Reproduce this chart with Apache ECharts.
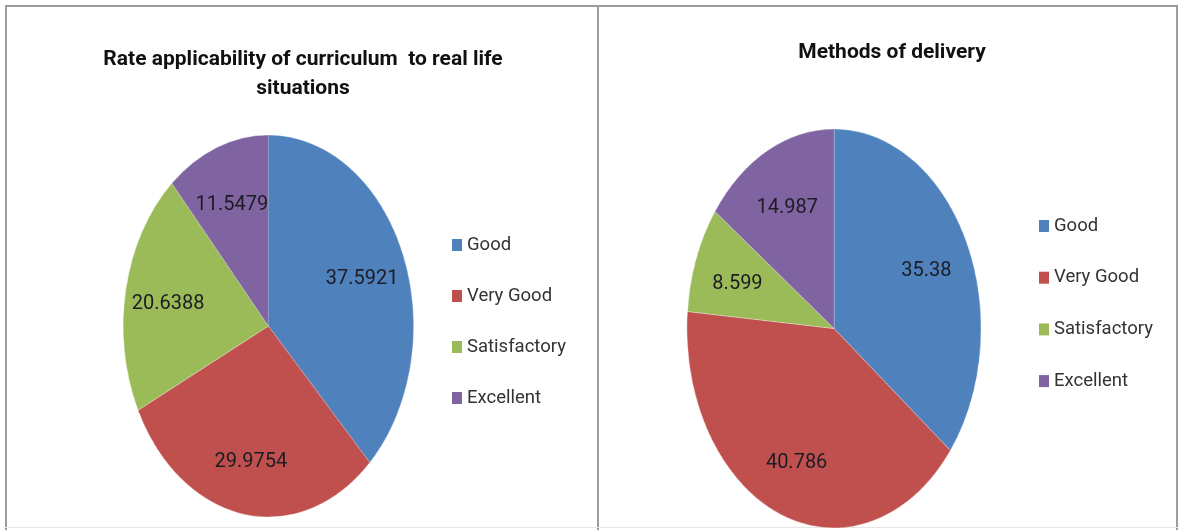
<!DOCTYPE html>
<html>
<head>
<meta charset="utf-8">
<script src="https://cdn.jsdelivr.net/npm/echarts@6/dist/echarts.min.js"></script>
<style>
  html, body { margin: 0; padding: 0; background: #fff; }
  #page { position: relative; width: 1181px; height: 530px; overflow: hidden; background: #fff; }
  .ln { position: absolute; background: #9c9c9c; }
  .pie { position: absolute; top: 0; height: 530px; transform-origin: 0 0; }
  #txt { position: absolute; left: 0; top: 0; width: 1181px; height: 530px; }
</style>
</head>
<body>
<div id="page">
  <div class="ln" style="left:5px;top:5px;width:1173px;height:2px;"></div>
  <div class="ln" style="left:5px;top:5px;width:2px;height:530px;"></div>
  <div class="ln" style="left:597px;top:5px;width:2px;height:530px;"></div>
  <div class="ln" style="left:1176px;top:5px;width:2px;height:530px;"></div>
  <div class="ln" style="left:5px;top:527px;width:1173px;height:1px;background:#e6e6e6;"></div>
  <div id="pieL" class="pie"></div>
  <div id="pieR" class="pie"></div>
  <div id="txt"></div>
</div>
<script>
// ---- data ----
const categories = ['Good', 'Very Good', 'Satisfactory', 'Excellent'];
const applicabilityValues = [37.5921, 29.9754, 20.6388, 11.5479];
const deliveryValues = [35.38, 40.786, 8.599, 14.987];
const titleLeft = 'Rate applicability of curriculum  to real life\nsituations';
const titleRight = 'Methods of delivery';
const colors = ['#4F81BD', '#C0504D', '#9BBB59', '#8064A2'];

// ---- geometry (page pixels) ----
const L = { cx: 268, cy: 326, rx: 145, ry: 191, left: 0, width: 598 };
const R = { cx: 834, cy: 328.5, rx: 147, ry: 199.5, left: 598, width: 583 };
const FONT = 'Roboto, "Noto Sans", sans-serif';

function makePie(id, geo, values) {
  const sx = geo.rx / geo.ry;
  const el = document.getElementById(id);
  const w = geo.width / sx;
  el.style.left = geo.left + 'px';
  el.style.width = w + 'px';
  el.style.transform = 'scaleX(' + sx + ')';
  const chart = echarts.init(el, null, { renderer: 'canvas', width: w, height: 530 });
  chart.setOption({
    animation: false,
    color: colors,
    series: [{
      type: 'pie',
      silent: true,
      startAngle: 90,
      clockwise: true,
      center: [(geo.cx - geo.left) / sx, geo.cy],
      radius: [0, geo.ry],
      label: { show: false },
      labelLine: { show: false },
      itemStyle: { borderColor: 'rgba(255,255,255,0.5)', borderWidth: 0.6 },
      data: categories.map((c, i) => ({ name: c, value: values[i] }))
    }]
  });
}
makePie('pieL', L, applicabilityValues);
makePie('pieR', R, deliveryValues);

// ---- text layer: titles, legends, data labels ----
const K = 1.36; // push labels outward from the default mid-radius
function labelLayoutFor(geo) {
  const sx = geo.rx / geo.ry;
  return function (p) {
    const r = p.labelRect;
    const x = r.x + r.width / 2, y = r.y + r.height / 2;
    return { x: geo.cx + (x - geo.cx) * K * sx, y: geo.cy + (y - geo.cy) * K + 4, align: 'center', verticalAlign: 'middle' };
  };
}
function ghostPie(geo, values) {
  return {
    type: 'pie',
    silent: true,
    startAngle: 90,
    clockwise: true,
    center: [geo.cx, geo.cy],
    radius: [0, geo.ry],
    itemStyle: { color: 'transparent', borderWidth: 0 },
    label: {
      show: true, position: 'inside', formatter: '{c}',
      color: '#1c1c24', fontFamily: FONT, fontSize: 20
    },
    labelLine: { show: false },
    labelLayout: labelLayoutFor(geo),
    data: categories.map((c, i) => ({ name: c, value: values[i] }))
  };
}
function legendFor(left, top, gap) {
  return {
    orient: 'vertical',
    left: left, top: top,
    icon: 'rect',
    itemWidth: 10, itemHeight: 12,
    itemGap: gap,
    selectedMode: false,
    textStyle: { fontFamily: FONT, fontSize: 18.5, color: '#333', lineHeight: 20 },
    data: categories.map((c, i) => ({ name: c, itemStyle: { color: colors[i], opacity: 1 } }))
  };
}
const txt = echarts.init(document.getElementById('txt'), null, { renderer: 'canvas', width: 1181, height: 530 });
txt.setOption({
  animation: false,
  backgroundColor: 'transparent',
  title: [
    { text: titleLeft, left: 298, top: 40, textAlign: 'center',
      textStyle: { fontFamily: FONT, fontSize: 21, fontWeight: 'bold', color: '#111', lineHeight: 29 } },
    { text: titleRight, left: 887, top: 33, textAlign: 'center',
      textStyle: { fontFamily: FONT, fontSize: 21, fontWeight: 'bold', color: '#111', lineHeight: 29 } }
  ],
  legend: [
    legendFor(447, 230, 31),
    legendFor(1034, 211, 31.7)
  ],
  series: [ghostPie(L, applicabilityValues), ghostPie(R, deliveryValues)]
});
</script>
</body>
</html>
